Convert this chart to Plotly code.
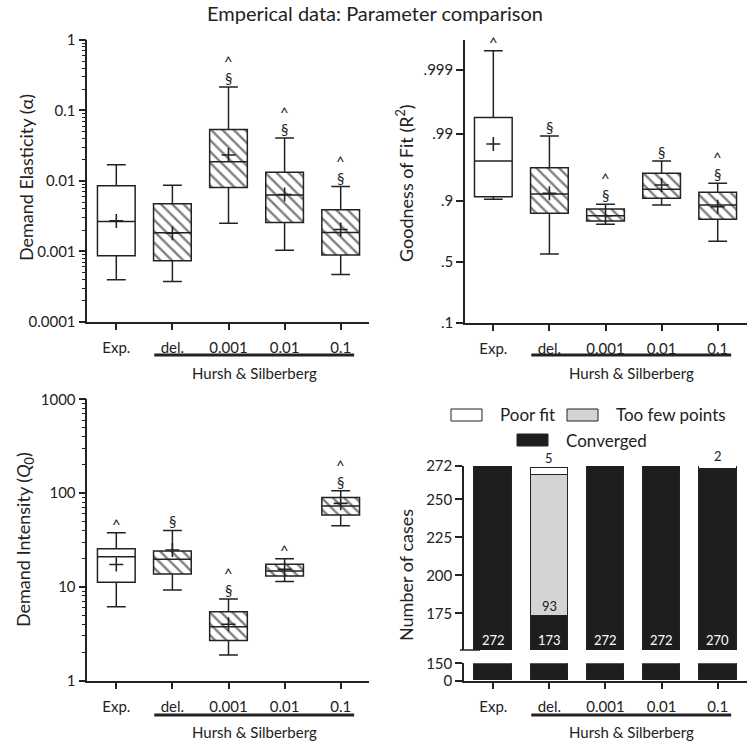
import numpy as np
import plotly.graph_objects as go

W, H = 750, 744
FONT = "Lato"
INK = "#222222"

categories = ["Exp.", "del.", "0.001", "0.01", "0.1"]
hatched = [False, True, True, True, True]
group_label = "Hursh & Silberberg"

# Demand elasticity (alpha)
alpha_lw = [0.000394, 0.000373, 0.00251, 0.00103, 0.000468]
alpha_q1 = [0.000867, 0.000736, 0.00803, 0.00257, 0.000887]
alpha_med = [0.00265, 0.00183, 0.0187, 0.0063, 0.00185]
alpha_q3 = [0.0085, 0.00474, 0.0535, 0.0133, 0.00389]
alpha_uw = [0.0169, 0.00867, 0.215, 0.0407, 0.0083]
alpha_mean = [0.0027, 0.0018, 0.0233, 0.0064, 0.00204]
alpha_caret = [False, False, True, True, True]
alpha_sect = [False, False, True, True, True]

# Goodness of fit (R^2)
r2_lw = [0.9047, 0.5693, 0.7938, 0.8853, 0.6759]
r2_q1 = [0.9124, 0.8512, 0.8128, 0.9076, 0.8218]
r2_med = [0.9742, 0.9198, 0.8402, 0.9315, 0.8853]
r2_q3 = [0.99452, 0.9673, 0.8698, 0.9604, 0.9241]
r2_uw = [0.9995, 0.9893, 0.8878, 0.9742, 0.944]
r2_mean = [0.9858, 0.9216, 0.840, 0.9407, 0.879]
r2_caret = [True, False, True, False, True]
r2_sect = [False, True, True, True, True]
r2_ticks = [0.1, 0.5, 0.9, 0.99, 0.999]
r2_ticktext = [".1", ".5", ".9", ".99", ".999"]

# Demand intensity (Q0)
q0_lw = [6.15, 9.27, 1.88, 11.4, 45.0]
q0_q1 = [11.2, 13.7, 2.69, 13.1, 58.3]
q0_med = [21.0, 19.7, 3.77, 14.8, 72.8]
q0_q3 = [25.5, 24.1, 5.44, 17.4, 90.0]
q0_uw = [37.8, 40.0, 7.43, 20.0, 106.0]
q0_mean = [17.3, 24.7, 4.0, 15.4, 77.8]
q0_caret = [True, False, True, True, True]
q0_sect = [False, True, True, False, True]

# Number of cases
converged = [272, 173, 272, 272, 270]
too_few = [0, 93, 0, 0, 0]
poor_fit = [0, 5, 0, 0, 2]
cases_ticks_upper = [175, 200, 225, 250, 272]
cases_ticks_lower = [0, 150]


def logit(p):
    p = np.asarray(p, dtype=float)
    return np.log(p / (1 - p))


def px(x):
    return x / W


def py(y):
    return 1 - y / H


xs = list(range(len(categories)))
fig = go.Figure()


def box_panel(xa, ya, lw, q1, med, q3, uw, mean, transform=None):
    t = (lambda v: list(v)) if transform is None else (lambda v: list(transform(v)))
    lw_, q1_, med_, q3_, uw_, mean_ = map(t, (lw, q1, med, q3, uw, mean))
    # hatch fill under the boxes
    fig.add_trace(go.Bar(
        x=xs, y=[b - a for a, b in zip(q1_, q3_)], base=q1_, width=0.672,
        xaxis=xa, yaxis=ya,
        marker=dict(color="white",
                    pattern=dict(shape=["\\" if h else "" for h in hatched],
                                 fgcolor="#000000", bgcolor="white", size=8, solidity=0.3),
                    line=dict(width=0)),
        hoverinfo="skip"))
    fig.add_trace(go.Box(
        x=xs, q1=q1_, median=med_, q3=q3_, lowerfence=lw_, upperfence=uw_,
        width=0.672, whiskerwidth=0.5, xaxis=xa, yaxis=ya,
        fillcolor="rgba(0,0,0,0)", line=dict(color=INK, width=1.5),
        boxpoints=False))
    fig.add_trace(go.Scatter(
        x=xs, y=mean_, mode="markers", xaxis=xa, yaxis=ya,
        marker=dict(symbol="cross-thin", size=10, color=INK,
                    line=dict(width=1.6, color=INK))))


box_panel("x", "y", alpha_lw, alpha_q1, alpha_med, alpha_q3, alpha_uw, alpha_mean)
box_panel("x2", "y2", r2_lw, r2_q1, r2_med, r2_q3, r2_uw, r2_mean, transform=logit)
box_panel("x3", "y3", q0_lw, q0_q1, q0_med, q0_q3, q0_uw, q0_mean)

# stacked bars (upper and lower segments of broken axis)
none0 = lambda v: [val if val else None for val in v]
for ya in ("y4", "y5"):
    fig.add_trace(go.Bar(x=xs, y=converged, width=0.672, xaxis="x4", yaxis=ya,
                         marker=dict(color="#1e1e1e", line=dict(color=INK, width=1))))
    fig.add_trace(go.Bar(x=xs, y=none0(too_few), width=0.672, xaxis="x4", yaxis=ya,
                         marker=dict(color="#d4d4d4", line=dict(color=INK, width=1))))
    fig.add_trace(go.Bar(x=xs, y=none0(poor_fit), width=0.672, xaxis="x4", yaxis=ya,
                         marker=dict(color="white", line=dict(color=INK, width=1))))

tickfont = dict(family=FONT, size=15, color=INK)
axis_common = dict(showline=True, linecolor=INK, linewidth=1.5, ticks="outside",
                   ticklen=7, tickwidth=1.5, tickcolor=INK, showgrid=False,
                   zeroline=False, tickfont=tickfont, automargin=False)
xcommon = dict(axis_common, tickmode="array", tickvals=xs, ticktext=categories,
               range=[-0.517, 4.51], ticklabelstandoff=5)


def minor_vals(lo, hi):
    return [k * 10.0 ** e for e in range(lo, hi) for k in range(2, 10)]


layout = dict(
    width=W, height=H, margin=dict(l=0, r=0, t=0, b=0, autoexpand=False),
    paper_bgcolor="white", plot_bgcolor="white", showlegend=False,
    barmode="stack", bargap=0,
    font=dict(family=FONT, color=INK),
    xaxis=dict(xcommon, domain=[px(87.3), px(369.3)], anchor="y"),
    yaxis=dict(axis_common, type="log", range=[-4, 0], domain=[py(321.7), py(40)],
               anchor="x", tickvals=[1e-4, 1e-3, 1e-2, 1e-1, 1],
               ticktext=["0.0001", "0.001", "0.01", "0.1", "1"],
               minor=dict(tickmode="array", tickvals=minor_vals(-4, 0), ticks="outside",
                          ticklen=3.5, tickwidth=1, tickcolor=INK)),
    xaxis2=dict(xcommon, domain=[px(465), px(746.7)], anchor="y2", range=[-0.505, 4.517]),
    yaxis2=dict(axis_common, range=[float(logit(0.1)), 7.99],
                domain=[py(322.7), py(40)], anchor="x2",
                tickvals=list(logit(r2_ticks)), ticktext=r2_ticktext),
    xaxis3=dict(xcommon, domain=[px(87.3), px(369.3)], anchor="y3"),
    yaxis3=dict(axis_common, type="log", range=[0, 3], domain=[py(680.7), py(399.3)],
                anchor="x3", tickvals=[1, 10, 100, 1000], ticktext=["1", "10", "100", "1000"],
                minor=dict(tickmode="array", tickvals=minor_vals(0, 3), ticks="outside",
                           ticklen=3.5, tickwidth=1, tickcolor=INK)),
    xaxis4=dict(xcommon, domain=[px(464), px(746.7)], anchor="y5", range=[-0.522, 4.517]),
    yaxis4=dict(axis_common, range=[150.9, 272], domain=[py(650), py(466)], anchor="x4",
                tickmode="array", tickvals=cases_ticks_upper,
                ticktext=[str(v) for v in cases_ticks_upper]),
    yaxis5=dict(axis_common, range=[0, 150], domain=[py(680.7), py(663.3)], anchor="x4",
                tickmode="array", tickvals=cases_ticks_lower,
                ticktext=[str(v) for v in cases_ticks_lower]),
)
fig.update_layout(**layout)

ann = []


def add_text(text, x, y, xref="paper", yref="paper", size=15, color=INK,
             xanchor="center", yanchor="middle", **kw):
    ann.append(dict(text=text, x=x, y=y, xref=xref, yref=yref, showarrow=False,
                    xanchor=xanchor, yanchor=yanchor,
                    font=dict(family=FONT, size=size, color=color), **kw))


# title
add_text("Emperical data: Parameter comparison", 0.5, py(13), size=20)
# y-axis titles
for text, x, y in [("Demand Elasticity (α)", 26, 178),
                   ("Goodness of Fit (R<sup>2</sup>)", 405, 183),
                   ("Demand Intensity (<i>Q</i><sub>0</sub>)", 24, 540),
                   ("Number of cases", 406, 575)]:
    add_text(text, px(x), py(y), size=18, textangle=-90)

# group underline + label for each panel
shapes = []
for xa, yline, ylab in [("x", 355, 373), ("x2", 355, 373), ("x3", 715, 732), ("x4", 715, 732)]:
    shapes.append(dict(type="line", xref=xa, yref="paper", x0=0.677, x1=4.24,
                       y0=py(yline), y1=py(yline), line=dict(color=INK, width=3)))
    add_text(group_label, 2.46, py(ylab), xref=xa)

# significance marks: section sign just above whisker, caret above that
for xa, ya, carets, sects, tops in [("x", "y", alpha_caret, alpha_sect, list(np.log10(alpha_uw))),
                                    ("x2", "y2", r2_caret, r2_sect, list(logit(r2_uw))),
                                    ("x3", "y3", q0_caret, q0_sect, list(np.log10(q0_uw)))]:
    for i, (c, s, top) in enumerate(zip(carets, sects, tops)):
        if s:
            add_text("§", i, float(top), xref=xa, yref=ya, yanchor="bottom", yshift=-2)
        if c:
            add_text("^", i, float(top), xref=xa, yref=ya, yanchor="bottom",
                     yshift=15 if s else -2)

# bar labels
for i in xs:
    add_text(str(converged[i]), i, 0, xref="x4", yref="y4 domain", yanchor="bottom",
             size=13, color="white")
    if too_few[i]:
        add_text(str(too_few[i]), i, converged[i], xref="x4", yref="y4",
                 yanchor="bottom", size=13)
    if poor_fit[i]:
        add_text(str(poor_fit[i]), i, converged[i] + too_few[i] + poor_fit[i],
                 xref="x4", yref="y4", yanchor="bottom", size=13)

# axis break stub
shapes.append(dict(type="line", xref="paper", yref="paper", x0=px(460), x1=px(480),
                   y0=py(650), y1=py(650), line=dict(color=INK, width=1.5)))

# manual legend
legend_items = [("Poor fit", "white", 451, 415), ("Too few points", "#d4d4d4", 567, 415),
                ("Converged", "#1e1e1e", 517, 440)]
for label, color, x0, yc in legend_items:
    shapes.append(dict(type="rect", xref="paper", yref="paper", x0=px(x0), x1=px(x0 + 31),
                       y0=py(yc + 6), y1=py(yc - 6), fillcolor=color,
                       line=dict(color=INK, width=1)))
    add_text(label, px(x0 + 47), py(yc), xanchor="left", size=17)

fig.update_layout(annotations=ann, shapes=shapes)
fig.write_html("out.html", config={"displayModeBar": False},
               post_script="document.body.style.margin='0';document.body.style.overflow='hidden';")
